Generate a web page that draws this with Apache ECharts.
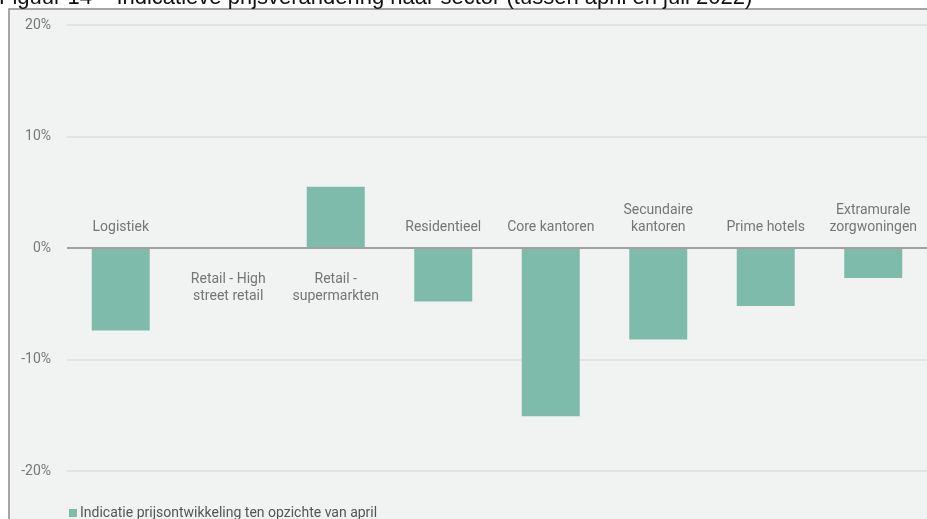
<!DOCTYPE html>
<html>
<head>
<meta charset="utf-8">
<script src="https://cdn.jsdelivr.net/npm/echarts@6/dist/echarts.min.js"></script>
<style>
html,body{margin:0;padding:0;background:#fff;}
#c{width:927px;height:519px;}
</style>
</head>
<body>
<div id="c"></div>
<script>
var categories = ['Logistiek', 'Retail - High\nstreet retail', 'Retail -\nsupermarkten', 'Residentieel', 'Core kantoren', 'Secundaire\nkantoren', 'Prime hotels', 'Extramurale\nzorgwoningen'];
var values = [-7.4, 0, 5.5, -4.8, -15.1, -8.2, -5.2, -2.7];
var seriesName = 'Indicatie prijsontwikkeling ten opzichte van april';
var titleText = 'Figuur 14 \u2013 Indicatieve prijsverandering naar sector (tussen april en juli 2022)';
var yTicks = [-20, -10, 0, 10, 20];

var chart = echarts.init(document.getElementById('c'), null, {renderer: 'canvas'});
var labelData = categories.map(function (c, i) {
  var neg = values[i] < 0;
  return {
    value: [i, 0],
    label: {
      formatter: c,
      position: neg ? 'top' : 'bottom',
      distance: neg ? 12 : 23
    }
  };
});
chart.setOption({
  animation: false,
  backgroundColor: '#ffffff',
  graphic: [
    {type: 'rect', z: -10, shape: {x: 9, y: 9, width: 1200, height: 800},
     style: {fill: '#f1f2f2', stroke: '#8a8a8a', lineWidth: 1.5}},
    {type: 'text', z: 10, x: -1, y: 9,
     style: {text: titleText, font: '22px "Liberation Sans"', fill: '#111', verticalAlign: 'bottom'}}
  ],
  grid: {left: 67, top: 25, width: 867, height: 446, containLabel: false},
  legend: {
    left: 64, top: 501,
    itemWidth: 8, itemHeight: 8, itemGap: 10,
    icon: 'rect',
    data: [seriesName],
    textStyle: {fontFamily: 'Roboto', fontSize: 14, color: '#555', padding: [0, 0, 0, -2]}
  },
  xAxis: {
    type: 'category', data: categories,
    axisLine: {show: false}, axisTick: {show: false}, axisLabel: {show: false}
  },
  yAxis: {
    type: 'value', min: yTicks[0], max: yTicks[yTicks.length - 1], interval: 10,
    axisLine: {show: false}, axisTick: {show: false},
    axisLabel: {formatter: '{value}%', fontFamily: 'Roboto', fontSize: 14, color: '#777', margin: 16, padding: [6, 0, 0, 0]},
    splitLine: {lineStyle: {color: '#dcdcdc', width: 1.5}}
  },
  series: [
    {
      name: seriesName, type: 'bar', data: values, barWidth: 58,
      itemStyle: {color: '#7fbbab'},
      markLine: {
        silent: true, symbol: 'none', label: {show: false},
        lineStyle: {color: '#a0a0a0', width: 2, type: 'solid'},
        data: [{yAxis: 0}]
      }
    },
    {
      name: 'labels', type: 'scatter', data: labelData, symbolSize: 0,
      label: {show: true, fontFamily: 'Roboto', fontSize: 14, color: '#555', lineHeight: 17, align: 'center'},
      z: 5
    }
  ]
});
</script>
</body>
</html>
